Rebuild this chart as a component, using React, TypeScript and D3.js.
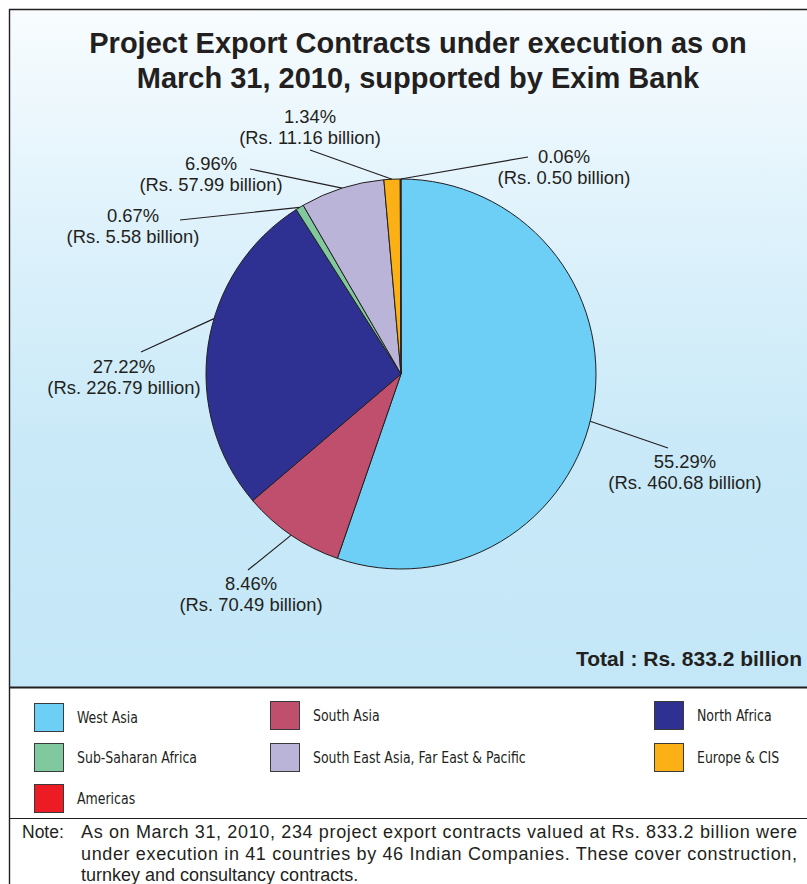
import React from "react";
import * as d3 from "d3";

const categories = [
  "West Asia",
  "South Asia",
  "North Africa",
  "Sub-Saharan Africa",
  "South East Asia, Far East & Pacific",
  "Europe & CIS",
  "Americas",
];
const shares = [55.29, 8.46, 27.22, 0.67, 6.96, 1.34, 0.06];
const billions = [460.68, 70.49, 226.79, 5.58, 57.99, 11.16, 0.5];
const colors = ["#6dcff6", "#bf4f6c", "#2e3192", "#80c99e", "#bab4d8", "#fbb116", "#ed1c24"];

const titleLines = ["Project Export Contracts under execution as on", "March 31, 2010, supported by Exim Bank"];
const totalText = "Total : Rs. 833.2 billion";
const noteLines = [
  "As on March 31, 2010, 234 project export contracts valued at Rs. 833.2 billion were",
  "under execution in 41 countries by 46 Indian Companies. These cover construction,",
  "turnkey and consultancy contracts.",
];

// label layout (positions only)
const labelLayout = [
  { nudge: 4.5, lx: 685, ly: 468, ex: 668, ey: 448 },
  { nudge: 0, lx: 251, ly: 590, ex: 248, ey: 570 },
  { nudge: 8, lx: 124, ly: 373, ex: 141, ey: 352 },
  { nudge: 0, lx: 133, ly: 222, ex: 180, ey: 220 },
  { nudge: 0, lx: 211, ly: 170, ex: 250, ey: 169 },
  { nudge: 0, lx: 310, ly: 123, ex: 310, ey: 150 },
  { nudge: 0, lx: 564, ly: 163, ex: 528, ey: 157 },
];
const legendCols = [34, 270, 654];
const legendRows = [703, 743, 784];
const legendPos = [
  [0, 0], [1, 0], [2, 0], [0, 1], [1, 1], [2, 1], [0, 2],
];

const W = 807;
const H = 884;
const cx = 401;
const cy = 374;
const R = 195;

export default function App() {
  const pie = d3.pie<number>().sort(null).value((d) => d);
  const arcs = pie(shares);
  const arc = d3.arc<d3.PieArcDatum<number>>().innerRadius(0).outerRadius(R);
  const labelFont = "'Liberation Sans', Arial, Helvetica, sans-serif";
  const narrowFont = "'Liberation Sans Narrow', 'Arial Narrow', 'DejaVu Sans Condensed', sans-serif";
  const txt = "#231f20";

  return (
    <svg width={W} height={H} style={{ position: "absolute", left: 0, top: 0, display: "block" }}>
      <defs>
        <linearGradient id="bg" x1="0" y1="0" x2="0" y2="1">
          <stop offset="0" stopColor="#f8fcfe" />
          <stop offset="0.35" stopColor="#dcf1fb" />
          <stop offset="0.65" stopColor="#c9e9f8" />
          <stop offset="1" stopColor="#c4e7f7" />
        </linearGradient>
      </defs>
      <rect x={0} y={0} width={W} height={H} fill="#ffffff" />
      <rect x={9} y={9} width={W} height={678} fill="url(#bg)" />
      {/* borders */}
      <line x1={9} y1={9.5} x2={W} y2={9.5} stroke="#231f20" strokeWidth={1.6} />
      <line x1={9.5} y1={9} x2={9.5} y2={H} stroke="#231f20" strokeWidth={1.4} />
      <line x1={9} y1={687.5} x2={W} y2={687.5} stroke="#231f20" strokeWidth={2} />
      <line x1={9} y1={818.5} x2={W} y2={818.5} stroke="#231f20" strokeWidth={1} />

      {/* title */}
      {titleLines.map((t, i) => (
        <text
          key={i}
          x={418}
          y={53 + i * 35}
          textAnchor="middle"
          fontFamily={labelFont}
          fontWeight="bold"
          fontSize={29}
          fill={txt}
        >
          {t}
        </text>
      ))}

      {/* pie */}
      <g transform={`translate(${cx},${cy})`}>
        {arcs.map((a, i) => (
          <path key={i} d={arc(a) || ""} fill={colors[i]} stroke="#231f20" strokeWidth={1} />
        ))}
      </g>

      {/* leader lines and labels */}
      {arcs.map((a, i) => {
        const L = labelLayout[i];
        const ang = (a.startAngle + a.endAngle) / 2 + (L.nudge * Math.PI) / 180;
        const sx = cx + R * Math.sin(ang);
        const sy = cy - R * Math.cos(ang);
        return (
          <g key={i}>
            <line x1={sx} y1={sy} x2={L.ex} y2={L.ey} stroke="#231f20" strokeWidth={1.2} />
            <text x={L.lx} y={L.ly} textAnchor="middle" fontFamily={labelFont} fontSize={18.4} fill={txt}>
              {shares[i].toFixed(2)}%
            </text>
            <text x={L.lx} y={L.ly + 20.5} textAnchor="middle" fontFamily={labelFont} fontSize={18.4} fill={txt}>
              (Rs. {billions[i].toFixed(2)} billion)
            </text>
          </g>
        );
      })}

      {/* total */}
      <text x={802} y={666} textAnchor="end" fontFamily={labelFont} fontWeight="bold" fontSize={21} fill={txt}>
        {totalText}
      </text>

      {/* legend */}
      {categories.map((c, i) => {
        const [col, row] = legendPos[i];
        const x = legendCols[col];
        const y = legendRows[row] - (col > 0 && row === 0 ? 2 : 0);
        return (
          <g key={c}>
            <rect x={x + 0.5} y={y + 0.5} width={29} height={28} fill={colors[i]} stroke="#3a3a3a" strokeWidth={1} />
            <g transform={`translate(${x + 43},${y + 20}) scale(0.86,1)`}>
              <text x={0} y={0} fontFamily={narrowFont} fontSize={16.2} fill={txt}>
                {c}
              </text>
            </g>
          </g>
        );
      })}

      {/* note */}
      <text x={22} y={838} fontFamily={labelFont} fontSize={17.5} fill={txt}>
        Note:
      </text>
      {noteLines.map((t, i) => (
        <text
          key={i}
          x={81}
          y={838 + i * 21.5}
          fontFamily={labelFont}
          fontSize={18}
          fill={txt}
          {...(i < 2 ? { textLength: 716, lengthAdjust: "spacing" } : {})}
        >
          {t}
        </text>
      ))}
    </svg>
  );
}
